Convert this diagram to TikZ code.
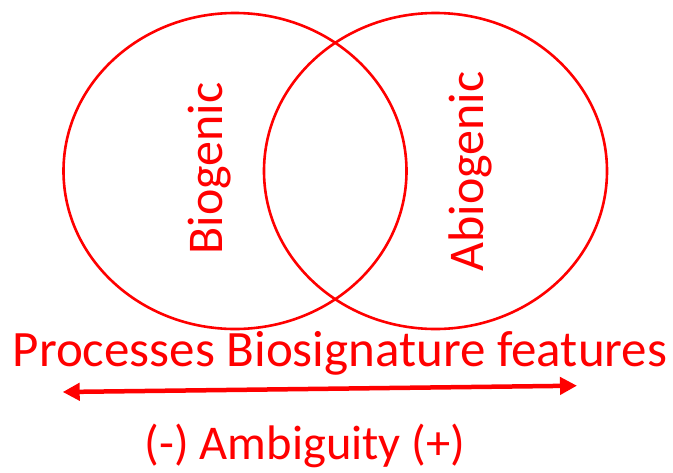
\documentclass[tikz,border=0pt]{standalone}
\usepackage{fontspec}
\setmainfont{Carlito}
\usetikzlibrary{shapes.geometric,arrows.meta}
\definecolor{vred}{RGB}{255,0,0}
\begin{document}
\begin{tikzpicture}[x=1pt,y=-1pt,
  setring/.style={draw=vred, line width=2.6pt, ellipse, inner sep=0pt,
    minimum width=343pt, minimum height=316pt},
  ringlabel/.style={text=vred, font=\fontsize{50}{60}\selectfont, rotate=90,
    anchor=base, inner sep=0pt},
  caption/.style={text=vred, font=\fontsize{51}{60}\selectfont, anchor=base, inner sep=0pt},
  scale arrow/.style={draw=vred, line width=4.5pt,
    {Triangle[length=17pt,width=17pt]}-{Triangle[length=17pt,width=17pt]}}]
\useasboundingbox (0,0) rectangle (673,472);
% the two overlapping sets
\node[setring] (bio) at (235,171) {};
\node[setring] (abio) at (435.5,171) {};
\node[ringlabel] (biolab) at (222,168.5) {Biogenic};
\node[ringlabel] (abiolab) at (483,171.5) {Abiogenic};
% axis of ambiguity
\node[caption] (proc) at (340,366) {Processes Biosignature features};
\coordinate (lo) at (62.7,392);
\coordinate (hi) at (577,385.7);
\draw[scale arrow] (lo) -- (hi);
\node[caption, font=\fontsize{48.5}{60}\selectfont] (amb) at (305,459) {(-) Ambiguity (+)};
\end{tikzpicture}
\end{document}
